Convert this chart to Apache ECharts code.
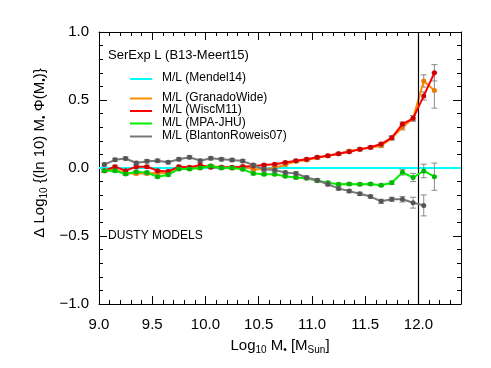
<!DOCTYPE html>
<html>
<head>
<meta charset="utf-8">
<script src="https://cdn.jsdelivr.net/npm/echarts@6/dist/echarts.min.js"></script>
<style>
  html, body { margin: 0; padding: 0; background: #fff; }
  #chart { width: 491px; height: 368px; }
</style>
</head>
<body>
<div id="chart"></div>
<script>
// stellar mass bin centres (log10 Msun)
const mass = [9.05, 9.15, 9.25, 9.35, 9.45, 9.55, 9.65, 9.75, 9.85, 9.95,
  10.05, 10.15, 10.25, 10.35, 10.45, 10.55, 10.65, 10.75, 10.85, 10.95,
  11.05, 11.15, 11.25, 11.35, 11.45, 11.55, 11.65, 11.75, 11.85, 11.95,
  12.05, 12.15]

const granado = [-0.02, -0.01, -0.04, -0.04, -0.04, -0.035, -0.04, 0.0, 0.0, 0.005,
  0.015, 0.005, 0.0, 0.01, -0.01, -0.01, 0.0, 0.025, 0.05, 0.058,
  0.075, 0.09, 0.105, 0.125, 0.137, 0.15, 0.164, 0.22, 0.30, 0.365,
  0.64, 0.57]
const granadoErr = [0.01, 0.01, 0.01, 0.01, 0.01, 0.01, 0.01, 0.01, 0.01, 0.01,
  0.01, 0.01, 0.01, 0.01, 0.01, 0.01, 0.01, 0.01, 0.01, 0.01,
  0.01, 0.01, 0.01, 0.01, 0.01, 0.01, 0.012, 0.015, 0.02, 0.02,
  0.045, 0.13]

const wisc = [-0.02, 0.01, -0.02, 0.01, 0.01, -0.02, -0.025, 0.01, 0.005, 0.02,
  0.005, 0.005, 0.005, 0.01, 0.015, 0.022, 0.027, 0.04, 0.054, 0.064,
  0.079, 0.09, 0.105, 0.12, 0.137, 0.152, 0.176, 0.223, 0.323, 0.365,
  0.53, 0.70]
const wiscErr = [0.01, 0.01, 0.01, 0.01, 0.01, 0.01, 0.01, 0.01, 0.01, 0.01,
  0.01, 0.01, 0.01, 0.01, 0.01, 0.01, 0.01, 0.01, 0.01, 0.01,
  0.01, 0.01, 0.01, 0.01, 0.01, 0.01, 0.012, 0.012, 0.015, 0.02,
  0.03, 0.06]

const mpa = [-0.02, -0.02, -0.044, -0.027, -0.034, -0.064, -0.05, -0.007, -0.007, 0.0,
  0.015, 0.0, 0.0, -0.01, -0.04, -0.046, -0.046, -0.06, -0.07, -0.076,
  -0.093, -0.108, -0.12, -0.118, -0.12, -0.118, -0.127, -0.108, -0.032, -0.07,
  -0.022, -0.064]
const mpaErr = [0.01, 0.01, 0.01, 0.01, 0.01, 0.01, 0.01, 0.01, 0.01, 0.01,
  0.01, 0.01, 0.01, 0.01, 0.01, 0.01, 0.01, 0.01, 0.01, 0.01,
  0.01, 0.01, 0.01, 0.01, 0.01, 0.01, 0.01, 0.012, 0.02, 0.03,
  0.05, 0.10]

const blanton = [0.025, 0.06, 0.07, 0.037, 0.05, 0.054, 0.042, 0.064, 0.079, 0.054,
  0.071, 0.064, 0.059, 0.051, 0.022, -0.01, -0.015, -0.034, -0.04, -0.07,
  -0.09, -0.12, -0.15, -0.17, -0.19, -0.21, -0.245, -0.23, -0.23, -0.255,
  -0.275]
const blantonErr = [0.012, 0.012, 0.012, 0.012, 0.012, 0.012, 0.012, 0.012, 0.012, 0.012,
  0.012, 0.012, 0.012, 0.012, 0.012, 0.012, 0.012, 0.012, 0.012, 0.012,
  0.012, 0.012, 0.012, 0.012, 0.012, 0.012, 0.015, 0.015, 0.02, 0.04,
  0.077]

// reference (Mendel14) sits on zero across the whole range
const mendelX = [9.0, 12.4]
const mendelY = [0.0, 0.0]

const massLimit = 12.0
const xRange = [9.0, 12.4]
const yRange = [-1.0, 1.0]

const NAMES = ['M/L (Mendel14)', 'M/L (GranadoWide)', 'M/L (WiscM11)', 'M/L (MPA-JHU)', 'M/L (BlantonRoweis07)']
const COLORS = ['#00ffff', '#ff8c00', '#ff0000', '#00ee00', '#777777']
const DOTS = ['#00ffff', '#e87a00', '#cc0000', '#00b800', '#555555']
const ERR = '#8a8a8a'
const FONT = 'Liberation Sans'

const chart = echarts.init(document.getElementById('chart'))

const pairs = (ys) => ys.map((y, i) => [mass[i], y])

function errBars(ys, errs, z) {
  return {
    type: 'custom', silent: true, z,
    data: ys.map((y, i) => [mass[i], y, errs[i]]),
    renderItem: (params, api) => {
      const x = api.value(0), y = api.value(1), e = api.value(2)
      const lo = api.coord([x, y - e]), hi = api.coord([x, y + e])
      const w = 3
      const st = { stroke: ERR, lineWidth: 1 }
      return {
        type: 'group',
        children: [
          { type: 'line', shape: { x1: lo[0], y1: lo[1], x2: hi[0], y2: hi[1] }, style: st },
          { type: 'line', shape: { x1: lo[0] - w, y1: lo[1], x2: lo[0] + w, y2: lo[1] }, style: st },
          { type: 'line', shape: { x1: hi[0] - w, y1: hi[1], x2: hi[0] + w, y2: hi[1] }, style: st },
        ],
      }
    },
  }
}

function curve(ys, k, z) {
  return {
    type: 'line', name: NAMES[k], data: pairs(ys), z,
    symbol: 'circle', symbolSize: 5, showSymbol: true,
    lineStyle: { color: COLORS[k], width: 2 },
    itemStyle: { color: DOTS[k] },
    animation: false,
  }
}

const black = { color: '#000', width: 1 }
const majorX = (pos, labels) => ({
  type: 'value', gridIndex: 0, position: pos, min: xRange[0], max: xRange[1], interval: 0.5,
  axisLine: { onZero: false, lineStyle: black },
  axisTick: { inside: true, length: 8, lineStyle: black },
  axisLabel: {
    show: labels, margin: 13, color: '#000', fontSize: 15, fontFamily: FONT,
    formatter: v => (Math.abs(v * 2 - Math.round(v * 2)) < 1e-6 ? v.toFixed(1) : ''),
  },
  splitLine: { show: false },
})
const minorX = (pos) => ({
  type: 'value', gridIndex: 1, position: pos, min: xRange[0], max: xRange[1], interval: 0.1,
  axisLine: { show: false, onZero: false },
  axisTick: { inside: true, length: 4, lineStyle: black },
  axisLabel: { show: false },
  splitLine: { show: false },
})
const majorY = (pos, labels) => ({
  type: 'value', gridIndex: 0, position: pos, min: yRange[0], max: yRange[1], interval: 0.5,
  axisLine: { onZero: false, lineStyle: black },
  axisTick: { inside: true, length: 8, lineStyle: black },
  minorTick: { show: true, splitNumber: 5, length: 4, lineStyle: black },
  axisLabel: {
    show: labels, margin: 10, color: '#000', fontSize: 15, fontFamily: FONT,
    formatter: v => (v < 0 ? '\u2212' + Math.abs(v).toFixed(1) : v.toFixed(1)),
  },
  splitLine: { show: false },
  minorSplitLine: { show: false },
})

const legendRows = [79, 98.5, 111, 123.5, 136.5]
const legendGraphics = []
NAMES.forEach((n, k) => {
  legendGraphics.push({
    type: 'line', shape: { x1: 130, y1: legendRows[k], x2: 152, y2: legendRows[k] },
    style: { stroke: COLORS[k], lineWidth: 2 },
  })
  legendGraphics.push({
    type: 'text', x: 162, y: legendRows[k] - 1,
    style: { text: n, fill: '#000', font: '12px "' + FONT + '"', textVerticalAlign: 'middle' },
  })
})

const sub = { fontSize: 10, fontFamily: FONT, fill: '#000', verticalAlign: 'bottom', lineHeight: 10 }

chart.setOption({
  animation: false,
  grid: [
    { left: 99, right: 30, top: 32, bottom: 64 },
    { left: 99, right: 30, top: 32, bottom: 64 },
  ],
  xAxis: [majorX('bottom', true), majorX('top', false), minorX('bottom'), minorX('top')],
  yAxis: [
    majorY('left', true), majorY('right', false),
    { type: 'value', gridIndex: 1, min: yRange[0], max: yRange[1], show: false },
  ],
  series: [
    {
      type: 'line', name: NAMES[0], data: mendelX.map((x, i) => [x, mendelY[i]]), z: 2,
      symbol: 'none', lineStyle: { color: COLORS[0], width: 2 },
      markLine: {
        silent: true, symbol: 'none', label: { show: false },
        lineStyle: { color: '#000', width: 1.2, type: 'solid' },
        data: [{ xAxis: massLimit }],
      },
    },
    errBars(granado, granadoErr, 3), curve(granado, 1, 4),
    errBars(wisc, wiscErr, 5), curve(wisc, 2, 6),
    errBars(mpa, mpaErr, 7), curve(mpa, 3, 8),
    errBars(blanton, blantonErr, 9), curve(blanton, 4, 10),
  ],
  graphic: [
    {
      type: 'text', x: 108, y: 55,
      style: { text: 'SerExp L (B13-Meert15)', fill: '#000', font: '13px "' + FONT + '"', textVerticalAlign: 'middle' },
    },
    ...legendGraphics,
    {
      type: 'text', x: 108, y: 236,
      style: { text: 'DUSTY MODELS', fill: '#000', font: '12px "' + FONT + '"', textVerticalAlign: 'middle' },
    },
    {
      type: 'text', x: 40, y: 153, rotation: Math.PI / 2,
      style: {
        text: '\u0394 Log{s|10} {(ln 10) M{s|\u2022} \u03a6(M{s|\u2022})}',
        fill: '#000', fontSize: 15, fontFamily: FONT, lineHeight: 18,
        align: 'center', verticalAlign: 'middle', rich: { s: sub },
      },
    },
    {
      type: 'text', x: 280, y: 346,
      style: {
        text: 'Log{s|10} M{s|\u2022} [M{s|Sun}]',
        fill: '#000', fontSize: 15, fontFamily: FONT, lineHeight: 18,
        align: 'center', verticalAlign: 'middle', rich: { s: sub },
      },
    },
  ],
})
</script>
</body>
</html>
